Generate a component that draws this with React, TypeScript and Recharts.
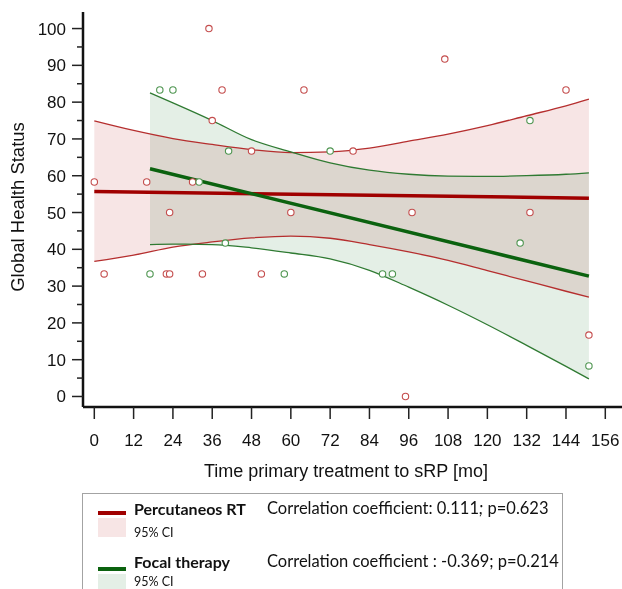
import { ComposedChart, XAxis, YAxis, Area, Line, Scatter, Label } from "recharts";

// axis ticks
const X_TICKS = [0, 12, 24, 36, 48, 60, 72, 84, 96, 108, 120, 132, 144, 156];
const Y_TICKS = [0, 5, 10, 15, 20, 25, 30, 35, 40, 45, 50, 55, 60, 65, 70, 75, 80, 85, 90, 95, 100];

// Percutaneous RT observations
const RT_X = [0, 16, 30, 35, 39, 36, 48, 23, 64, 79, 60, 97, 107, 144, 133, 3, 22, 23, 33, 51, 95, 151];
const RT_Y = [58.3, 58.3, 58.3, 100, 83.3, 75, 66.7, 50, 83.3, 66.7, 50, 50, 91.7, 83.3, 50, 33.3, 33.3, 33.3, 33.3, 33.3, 0, 16.7];

// Focal therapy observations
const FT_X = [32, 20, 24, 41, 72, 133, 40, 17, 58, 88, 91, 130, 151];
const FT_Y = [58.3, 83.3, 83.3, 66.7, 66.7, 75, 41.7, 33.3, 33.3, 33.3, 33.3, 41.7, 8.3];

// regression lines
const RT_FIT_X = [0, 151];
const RT_FIT_Y = [55.7, 53.9];
const FT_FIT_X = [17, 151];
const FT_FIT_Y = [61.9, 32.7];

// 95% CI bands
const RT_CI_X = [0, 12, 24, 36, 48, 60, 72, 84, 96, 108, 120, 132, 144, 151];
const RT_CI_LO = [36.7, 38.4, 40.6, 42.0, 43.1, 43.6, 43.0, 41.3, 39.3, 37.0, 34.2, 31.4, 28.6, 27.0];
const RT_CI_HI = [74.9, 72.3, 70.1, 68.5, 67.1, 66.3, 66.5, 67.5, 69.4, 71.3, 73.6, 76.3, 79.0, 80.8];

const FT_CI_X = [17, 24, 36, 48, 60, 72, 84, 96, 108, 120, 132, 144, 151];
const FT_CI_LO = [41.3, 41.4, 41.3, 40.4, 39.0, 37.4, 34.3, 29.7, 24.8, 19.5, 13.9, 8.2, 4.8];
const FT_CI_HI = [82.5, 79.8, 75.0, 69.8, 66.5, 63.5, 61.5, 60.4, 59.9, 59.8, 60.0, 60.4, 60.8];

const toPts = (xs: number[], ys: number[]) => xs.map((x, i) => ({ x, y: ys[i] }));
const toBand = (xs: number[], lo: number[], hi: number[]) =>
  xs.map((x, i) => ({ x, lo: lo[i], hi: hi[i] }));

const rtPts = toPts(RT_X, RT_Y);
const ftPts = toPts(FT_X, FT_Y);
const rtFit = toPts(RT_FIT_X, RT_FIT_Y);
const ftFit = toPts(FT_FIT_X, FT_FIT_Y);
const rtBand = toBand(RT_CI_X, RT_CI_LO, RT_CI_HI);
const ftBand = toBand(FT_CI_X, FT_CI_LO, FT_CI_HI);

const AXIS_FONT = "'Liberation Sans', Arial, sans-serif";
const LEGEND_FONT = "Lato, 'Open Sans', sans-serif";

const RT_FILL = "#f7e5e5";
const FT_FILL = "#e4efe6";

function YTick(props: any) {
  const { x, y, payload } = props;
  const major = payload.value % 10 === 0;
  return (
    <g>
      <line x1={x - (major ? 11 : 6)} x2={x} y1={y} y2={y} stroke="#222" strokeWidth={1.5} />
      {major && (
        <text x={x - 17} y={y} dy={6} textAnchor="end" fontSize={17} fontFamily={AXIS_FONT} fill="#111">
          {payload.value}
        </text>
      )}
    </g>
  );
}

function XTick(props: any) {
  const { x, y, payload } = props;
  return (
    <g>
      <line x1={x} x2={x} y1={y} y2={y + 12} stroke="#222" strokeWidth={1.5} />
      <text x={x} y={y + 39} textAnchor="middle" fontSize={17} fontFamily={AXIS_FONT} fill="#111">
        {payload.value}
      </text>
    </g>
  );
}

const dot = (color: string) => (p: any) => (
  <circle cx={p.cx} cy={p.cy} r={3.2} fill="#fff" stroke={color} strokeWidth={1.1} />
);

export default function App() {
  return (
    <div style={{ position: "absolute", left: 0, top: 0, width: 622, height: 589, background: "#fff", overflow: "hidden" }}>
      {/* overlapping CI bands mix like the original (pink x green = greyish brown) */}
      <style>{`.recharts-area, .recharts-area * { mix-blend-mode: multiply; }`}</style>
      <ComposedChart width={622} height={589} margin={{ top: 12, right: 0, left: 0, bottom: 102 }}>
        <XAxis
          dataKey="x"
          type="number"
          domain={[-3.45, 161.1]}
          ticks={X_TICKS}
          interval={0}
          allowDataOverflow
          tickSize={0}
          tickMargin={0}
          tick={<XTick />}
          axisLine={{ stroke: "#111", strokeWidth: 2.5 }}
          height={80}
          label={
            <Label
              content={() => (
                <text x={346} y={477} textAnchor="middle" fontSize={18} fontFamily={AXIS_FONT} fill="#111">
                  Time primary treatment to sRP [mo]
                </text>
              )}
            />
          }
        />
        <YAxis
          type="number"
          domain={[-2.86, 104.5]}
          ticks={Y_TICKS}
          interval={0}
          allowDataOverflow
          tickSize={0}
          tickMargin={0}
          tick={<YTick />}
          axisLine={{ stroke: "#111", strokeWidth: 2.5 }}
          width={83}
          label={
            <Label
              content={() => (
                <text
                  x={18}
                  y={207}
                  transform="rotate(-90 18 207)"
                  dy={6}
                  textAnchor="middle"
                  fontSize={18.5}
                  fontFamily={AXIS_FONT}
                  fill="#111"
                >
                  Global Health Status
                </text>
              )}
            />
          }
        />
        <Area
          data={rtBand}
          dataKey={(d: any) => [d.lo, d.hi]}
          type="monotone"
          stroke="none"
          fill={RT_FILL}
          fillOpacity={1}
          isAnimationActive={false}
        />
        <Area
          data={ftBand}
          dataKey={(d: any) => [d.lo, d.hi]}
          type="monotone"
          stroke="none"
          fill={FT_FILL}
          fillOpacity={1}
          isAnimationActive={false}
        />
        <Line data={rtBand} dataKey="hi" type="monotone" stroke="#b52e2e" strokeWidth={1.3} dot={false} isAnimationActive={false} />
        <Line data={rtBand} dataKey="lo" type="monotone" stroke="#b52e2e" strokeWidth={1.3} dot={false} isAnimationActive={false} />
        <Line data={ftBand} dataKey="hi" type="monotone" stroke="#2f7a32" strokeWidth={1.3} dot={false} isAnimationActive={false} />
        <Line data={ftBand} dataKey="lo" type="monotone" stroke="#2f7a32" strokeWidth={1.3} dot={false} isAnimationActive={false} />
        <Line data={rtFit} dataKey="y" type="linear" stroke="#a00000" strokeWidth={3.5} dot={false} isAnimationActive={false} />
        <Line data={ftFit} dataKey="y" type="linear" stroke="#0b620f" strokeWidth={3.5} dot={false} isAnimationActive={false} />
        <Scatter data={rtPts} dataKey="y" shape={dot("#c44d4d")} isAnimationActive={false} />
        <Scatter data={ftPts} dataKey="y" shape={dot("#4e9550")} isAnimationActive={false} />
      </ComposedChart>

      {/* legend box */}
      <div
        style={{
          position: "absolute",
          left: 82,
          top: 493,
          width: 479,
          height: 120,
          border: "1px solid #a3a3a3",
          fontFamily: LEGEND_FONT,
          color: "#111",
        }}
      >
        <div style={{ position: "absolute", left: 15, top: 17, width: 28, height: 4, background: "#a00000" }} />
        <div style={{ position: "absolute", left: 15, top: 24, width: 28, height: 19, background: RT_FILL }} />
        <div style={{ position: "absolute", left: 51, top: 5, fontSize: 16, fontWeight: 700 }}>Percutaneos RT</div>
        <div style={{ position: "absolute", left: 51, top: 31, fontSize: 12.5 }}>95% CI</div>
        <div style={{ position: "absolute", left: 184, top: 4, fontSize: 16.5 }}>
          Correlation coefficient: 0.111<i>;</i> p=0.623
        </div>

        <div style={{ position: "absolute", left: 15, top: 73, width: 28, height: 4, background: "#0b620f" }} />
        <div style={{ position: "absolute", left: 15, top: 80, width: 28, height: 19, background: FT_FILL }} />
        <div style={{ position: "absolute", left: 51, top: 58, fontSize: 16, fontWeight: 700 }}>Focal therapy</div>
        <div style={{ position: "absolute", left: 51, top: 80, fontSize: 12.5 }}>95% CI</div>
        <div style={{ position: "absolute", left: 184, top: 57, fontSize: 16.5 }}>
          Correlation coefficient : -0.369; p=0.214
        </div>
      </div>
    </div>
  );
}
